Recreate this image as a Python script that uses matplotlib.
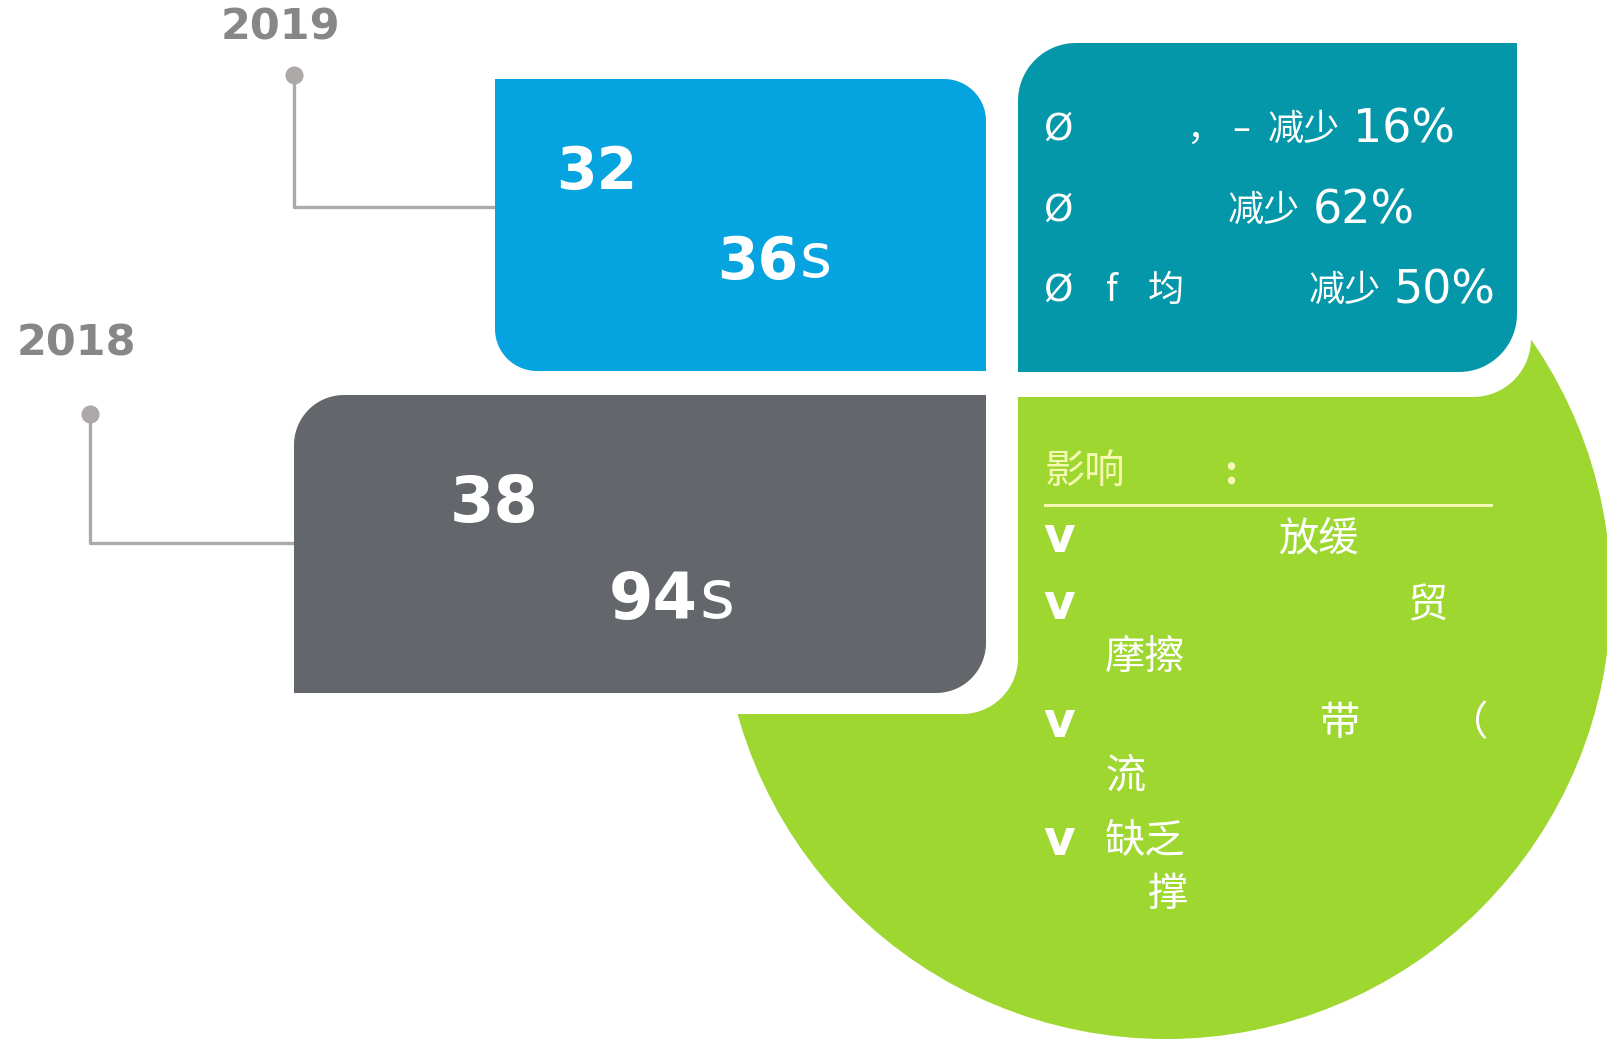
import numpy as np
import matplotlib.pyplot as plt
from matplotlib.patches import Polygon, Circle

# data
years = ['2019', '2018']
year_label_xy = [(280, 28), (76, 344)]
big_values = ['32', '38']
small_values = ['36', '94']
unit = 's'
teal_pcts = ['16%', '62%', '50%']
green_title = '影响'
green_items = [['放缓'], ['贸', '摩擦'], ['带', '（', '流'], ['缺乏', '撑']]

W, H = 1607, 1040
CJK = ['Noto Sans CJK SC', 'DejaVu Sans']

BLUE = '#05A3E0'
GREY = '#63666A'
TEAL = '#0397A9'
GREEN = '#9DD730'
LINE = '#ADA9A9'
PALE = '#F5F9B4'


def rrect(x0, y0, x1, y1, r, corners, **kw):
    def arc(cx, cy, a0, a1):
        t = np.radians(np.linspace(a0, a1, 24))
        return np.column_stack([cx + r * np.cos(t), cy + r * np.sin(t)])
    pts = []
    pts.append(arc(x0 + r, y0 + r, 180, 270) if 'tl' in corners else [[x0, y0]])
    pts.append(arc(x1 - r, y0 + r, 270, 360) if 'tr' in corners else [[x1, y0]])
    pts.append(arc(x1 - r, y1 - r, 0, 90) if 'br' in corners else [[x1, y1]])
    pts.append(arc(x0 + r, y1 - r, 90, 180) if 'bl' in corners else [[x0, y1]])
    return Polygon(np.vstack(pts), closed=True, lw=0, **kw)


fig = plt.figure(figsize=(W / 100, H / 100), dpi=100)
ax = fig.add_axes([0, 0, 1, 1])
ax.set_xlim(0, W)
ax.set_ylim(H, 0)
ax.axis('off')

# green shape: circle + block, then white masks
ax.add_patch(Circle((1166, 594), 445, color=GREEN, lw=0, zorder=1))
ax.add_patch(rrect(1000, 390, 1530, 760, 1, [], color=GREEN, zorder=1))
ax.add_patch(rrect(-50, -50, 1018, 714, 56, ['br'], color='white', zorder=2))
ax.add_patch(rrect(-50, -50, 1531, 397, 58, ['br'], color='white', zorder=2))

# boxes
ax.add_patch(rrect(495, 79, 986, 371, 42, ['tr', 'bl'], color=BLUE, zorder=3))
ax.add_patch(rrect(294, 395, 986, 693, 50, ['tl', 'br'], color=GREY, zorder=3))
ax.add_patch(rrect(1018, 43, 1517, 372, 58, ['tl', 'br'], color=TEAL, zorder=3))

# year connectors
ax.plot([294, 294, 495], [75, 207, 207], color=LINE, lw=2.4, zorder=2.5, solid_capstyle='butt')
ax.plot([90, 90, 294], [414, 543, 543], color=LINE, lw=2.4, zorder=2.5, solid_capstyle='butt')
ax.scatter([294, 90], [75, 414], s=170, color=LINE, zorder=4, lw=0)
for yr, (x, y) in zip(years, year_label_xy):
    ax.text(x, y, yr, color='#878787', fontsize=31, fontweight='bold', ha='center', va='center')

# numbers in boxes
num_pos = [((556, 173), (717, 262), 42), ((450, 504), (609, 601), 46)]
for big, small, (p1, p2, fs) in zip(big_values, small_values, num_pos):
    ax.text(p1[0], p1[1], big, color='white', fontsize=fs, fontweight='bold', ha='left', va='center', zorder=5)
    t = ax.text(p2[0], p2[1], small, color='white', fontsize=fs, fontweight='bold', ha='left', va='center', zorder=5)
    ax.annotate(unit, xy=(1, 0), xycoords=t, xytext=(1, 0), textcoords='offset points', color='white',
                fontsize=fs * 1.05, ha='left', va='bottom', zorder=5)

# teal list
fs_t = 26
for y in [130, 211, 291]:
    ax.text(1043, y, 'Ø', color='white', fontsize=27, ha='left', va='center', zorder=5)
ax.text(1186, 130, '，', color='white', fontsize=fs_t, family=CJK, ha='left', va='center', zorder=5)
ax.text(1232, 130, '–', color='white', fontsize=fs_t, ha='left', va='center', zorder=5)
teal_rows = [(1268, 130), (1228, 211), (1309, 291)]
for pct, (x, y) in zip(teal_pcts, teal_rows):
    t = ax.text(x, y, '减少', color='white', fontsize=fs_t, family=CJK, ha='left', va='center', zorder=5)
    ax.annotate(pct, xy=(1, 0.5), xycoords=t, xytext=(9, 0), textcoords='offset points', color='white',
                fontsize=33, ha='left', va='center', zorder=5)
ax.text(1106, 291, 'f', color='white', fontsize=fs_t, family=CJK, ha='left', va='center', zorder=5)
ax.text(1148, 291, '均', color='white', fontsize=fs_t, family=CJK, ha='left', va='center', zorder=5)

# green list
fs_g = 29
ax.text(1045, 472, green_title, color=PALE, fontsize=fs_g, family=CJK, ha='left', va='center', zorder=5)
ax.text(1224, 472, ':', color=PALE, fontsize=fs_g, family=CJK, ha='left', va='center', fontweight='bold', zorder=5)
ax.plot([1045, 1491], [505, 505], color=PALE, lw=2.2, zorder=5)
for y in [538, 605, 723, 841]:
    ax.text(1043, y, 'v', color='white', fontsize=35, fontweight='bold', ha='left', va='center', zorder=5)
item_pos = [[(1278, 539)], [(1407, 606), (1105, 657)], [(1320, 724), (1448, 724), (1105, 776)],
            [(1105, 842), (1148, 894)]]
for words, poss in zip(green_items, item_pos):
    for w, (x, y) in zip(words, poss):
        ax.text(x, y, w, color='white', fontsize=fs_g, family=CJK, ha='left', va='center', zorder=5)

fig.savefig('out.png', dpi=100, facecolor='white')
